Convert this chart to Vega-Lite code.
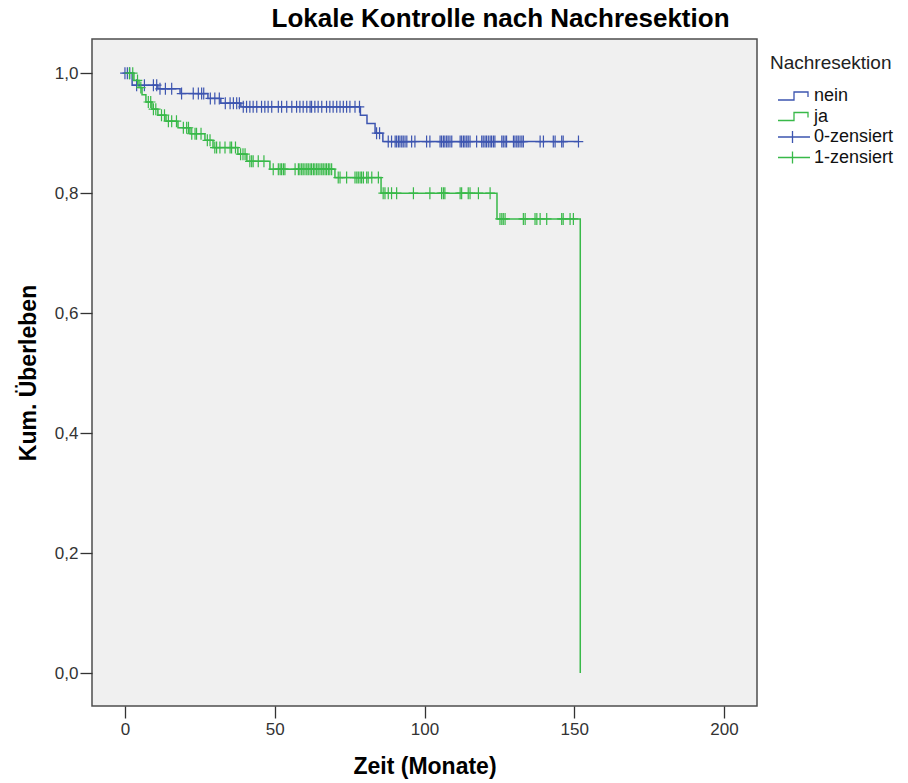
{
  "$schema": "https://vega.github.io/schema/vega-lite/v6.json",
  "width": 665,
  "height": 667,
  "autosize": {"type": "none"},
  "padding": {"left": 92, "top": 39, "right": 151, "bottom": 77},
  "background": "white",
  "title": {"text": "Lokale Kontrolle nach Nachresektion", "fontSize": 26, "fontWeight": "bold", "font": "Liberation Sans", "color": "#000", "anchor": "middle", "dx": 76, "offset": -14, "baseline": "alphabetic"},
  "config": {
    "view": {"fill": "#f0f0f0", "stroke": "#4d4d4d", "strokeWidth": 1.5},
    "font": "Liberation Sans",
    "axis": {"grid": false, "domain": false, "tickColor": "#333", "tickWidth": 1.3, "tickSize": 12, "labelFontSize": 17, "labelColor": "#333", "titleFontSize": 23, "titleFontWeight": "bold", "titleColor": "#000", "labelFont": "Liberation Sans", "titleFont": "Liberation Sans"},
    "legend": {"orient": "none", "legendX": 678, "legendY": 15, "titleFontSize": 19, "titleFontWeight": "normal", "titleColor": "#222", "titleFont": "Liberation Sans", "labelFont": "Liberation Sans", "labelFontSize": 18, "labelColor": "#111", "symbolSize": 400, "symbolOffset": 13, "labelOffset": 9, "rowPadding": 0.5, "titlePadding": 12}
  },
  "datasets": {
    "steps": [
      {"g": "nein", "t": 0, "s": 1.0}, {"g": "nein", "t": 2.4, "s": 0.98}, {"g": "nein", "t": 11, "s": 0.974}, {"g": "nein", "t": 18.4, "s": 0.966}, {"g": "nein", "t": 27.7, "s": 0.958}, {"g": "nein", "t": 32, "s": 0.95}, {"g": "nein", "t": 38.7, "s": 0.944}, {"g": "nein", "t": 78.6, "s": 0.93}, {"g": "nein", "t": 80.8, "s": 0.916}, {"g": "nein", "t": 83.5, "s": 0.9}, {"g": "nein", "t": 86.1, "s": 0.886}, {"g": "nein", "t": 151.4, "s": 0.886},
      {"g": "ja", "t": 0, "s": 1.0}, {"g": "ja", "t": 3, "s": 0.988}, {"g": "ja", "t": 4.7, "s": 0.976}, {"g": "ja", "t": 5.7, "s": 0.964}, {"g": "ja", "t": 7, "s": 0.952}, {"g": "ja", "t": 9, "s": 0.94}, {"g": "ja", "t": 11, "s": 0.93}, {"g": "ja", "t": 13.7, "s": 0.92}, {"g": "ja", "t": 17.7, "s": 0.909}, {"g": "ja", "t": 21.7, "s": 0.899}, {"g": "ja", "t": 26.7, "s": 0.888}, {"g": "ja", "t": 29.4, "s": 0.876}, {"g": "ja", "t": 37.7, "s": 0.865}, {"g": "ja", "t": 40.7, "s": 0.853}, {"g": "ja", "t": 48.4, "s": 0.84}, {"g": "ja", "t": 70.1, "s": 0.826}, {"g": "ja", "t": 85.5, "s": 0.8}, {"g": "ja", "t": 124.2, "s": 0.757}, {"g": "ja", "t": 151.9, "s": 0.757}, {"g": "ja", "t": 152, "s": 0.0}
    ],
    "cens": [
      {"g": "0-zensiert", "t": 0, "s": 1.0}, {"g": "0-zensiert", "t": 0.8, "s": 1.0}, {"g": "0-zensiert", "t": 1.6, "s": 1.0},
      {"g": "0-zensiert", "t": 3.9, "s": 0.98}, {"g": "0-zensiert", "t": 6.5, "s": 0.98}, {"g": "0-zensiert", "t": 9.5, "s": 0.98}, {"g": "0-zensiert", "t": 10.6, "s": 0.98},
      {"g": "0-zensiert", "t": 11.7, "s": 0.974}, {"g": "0-zensiert", "t": 13.5, "s": 0.974}, {"g": "0-zensiert", "t": 15.6, "s": 0.974},
      {"g": "0-zensiert", "t": 18.9, "s": 0.966}, {"g": "0-zensiert", "t": 22.8, "s": 0.966}, {"g": "0-zensiert", "t": 24.5, "s": 0.966}, {"g": "0-zensiert", "t": 25.6, "s": 0.966}, {"g": "0-zensiert", "t": 26.3, "s": 0.966},
      {"g": "0-zensiert", "t": 28.5, "s": 0.958}, {"g": "0-zensiert", "t": 30, "s": 0.958}, {"g": "0-zensiert", "t": 31.5, "s": 0.958},
      {"g": "0-zensiert", "t": 33.5, "s": 0.95}, {"g": "0-zensiert", "t": 35.1, "s": 0.95}, {"g": "0-zensiert", "t": 36.2, "s": 0.95}, {"g": "0-zensiert", "t": 37.3, "s": 0.95}, {"g": "0-zensiert", "t": 38.2, "s": 0.95},
      {"g": "0-zensiert", "t": 39.5, "s": 0.944}, {"g": "0-zensiert", "t": 40.6, "s": 0.944}, {"g": "0-zensiert", "t": 41.7, "s": 0.944}, {"g": "0-zensiert", "t": 42.8, "s": 0.944}, {"g": "0-zensiert", "t": 44, "s": 0.944}, {"g": "0-zensiert", "t": 45.6, "s": 0.944}, {"g": "0-zensiert", "t": 46.7, "s": 0.944}, {"g": "0-zensiert", "t": 47.8, "s": 0.944}, {"g": "0-zensiert", "t": 49, "s": 0.944}, {"g": "0-zensiert", "t": 51.2, "s": 0.944}, {"g": "0-zensiert", "t": 52.3, "s": 0.944}, {"g": "0-zensiert", "t": 54, "s": 0.944}, {"g": "0-zensiert", "t": 55.7, "s": 0.944}, {"g": "0-zensiert", "t": 57.3, "s": 0.944}, {"g": "0-zensiert", "t": 58.4, "s": 0.944}, {"g": "0-zensiert", "t": 59.5, "s": 0.944}, {"g": "0-zensiert", "t": 60.7, "s": 0.944}, {"g": "0-zensiert", "t": 61.8, "s": 0.944}, {"g": "0-zensiert", "t": 62.3, "s": 0.944}, {"g": "0-zensiert", "t": 63.4, "s": 0.944}, {"g": "0-zensiert", "t": 64.5, "s": 0.944}, {"g": "0-zensiert", "t": 65.7, "s": 0.944}, {"g": "0-zensiert", "t": 67.3, "s": 0.944}, {"g": "0-zensiert", "t": 68.4, "s": 0.944}, {"g": "0-zensiert", "t": 69.5, "s": 0.944}, {"g": "0-zensiert", "t": 70.7, "s": 0.944}, {"g": "0-zensiert", "t": 71.8, "s": 0.944}, {"g": "0-zensiert", "t": 72.9, "s": 0.944}, {"g": "0-zensiert", "t": 74, "s": 0.944}, {"g": "0-zensiert", "t": 75.1, "s": 0.944}, {"g": "0-zensiert", "t": 76.8, "s": 0.944}, {"g": "0-zensiert", "t": 78.3, "s": 0.944},
      {"g": "0-zensiert", "t": 84, "s": 0.9}, {"g": "0-zensiert", "t": 85, "s": 0.9},
      {"g": "0-zensiert", "t": 87.9, "s": 0.886}, {"g": "0-zensiert", "t": 89, "s": 0.886}, {"g": "0-zensiert", "t": 90.2, "s": 0.886}, {"g": "0-zensiert", "t": 90.7, "s": 0.886}, {"g": "0-zensiert", "t": 91.3, "s": 0.886}, {"g": "0-zensiert", "t": 91.8, "s": 0.886}, {"g": "0-zensiert", "t": 92.4, "s": 0.886}, {"g": "0-zensiert", "t": 92.9, "s": 0.886}, {"g": "0-zensiert", "t": 93.5, "s": 0.886}, {"g": "0-zensiert", "t": 94.1, "s": 0.886}, {"g": "0-zensiert", "t": 95.7, "s": 0.886}, {"g": "0-zensiert", "t": 96.8, "s": 0.886}, {"g": "0-zensiert", "t": 100.7, "s": 0.886}, {"g": "0-zensiert", "t": 101.8, "s": 0.886}, {"g": "0-zensiert", "t": 105.2, "s": 0.886}, {"g": "0-zensiert", "t": 105.7, "s": 0.886}, {"g": "0-zensiert", "t": 106.3, "s": 0.886}, {"g": "0-zensiert", "t": 106.8, "s": 0.886}, {"g": "0-zensiert", "t": 107.4, "s": 0.886}, {"g": "0-zensiert", "t": 107.9, "s": 0.886}, {"g": "0-zensiert", "t": 108.5, "s": 0.886}, {"g": "0-zensiert", "t": 109.1, "s": 0.886}, {"g": "0-zensiert", "t": 111.9, "s": 0.886}, {"g": "0-zensiert", "t": 112.4, "s": 0.886}, {"g": "0-zensiert", "t": 113, "s": 0.886}, {"g": "0-zensiert", "t": 113.5, "s": 0.886}, {"g": "0-zensiert", "t": 114.1, "s": 0.886}, {"g": "0-zensiert", "t": 114.6, "s": 0.886}, {"g": "0-zensiert", "t": 115.2, "s": 0.886}, {"g": "0-zensiert", "t": 117.4, "s": 0.886}, {"g": "0-zensiert", "t": 119.1, "s": 0.886}, {"g": "0-zensiert", "t": 119.6, "s": 0.886}, {"g": "0-zensiert", "t": 120.2, "s": 0.886}, {"g": "0-zensiert", "t": 120.7, "s": 0.886}, {"g": "0-zensiert", "t": 121.3, "s": 0.886}, {"g": "0-zensiert", "t": 121.9, "s": 0.886}, {"g": "0-zensiert", "t": 122.4, "s": 0.886}, {"g": "0-zensiert", "t": 123, "s": 0.886}, {"g": "0-zensiert", "t": 123.5, "s": 0.886}, {"g": "0-zensiert", "t": 125.8, "s": 0.886}, {"g": "0-zensiert", "t": 126.3, "s": 0.886}, {"g": "0-zensiert", "t": 126.9, "s": 0.886}, {"g": "0-zensiert", "t": 127.4, "s": 0.886}, {"g": "0-zensiert", "t": 129.7, "s": 0.886}, {"g": "0-zensiert", "t": 130.2, "s": 0.886}, {"g": "0-zensiert", "t": 130.8, "s": 0.886}, {"g": "0-zensiert", "t": 131.3, "s": 0.886}, {"g": "0-zensiert", "t": 131.9, "s": 0.886}, {"g": "0-zensiert", "t": 132.5, "s": 0.886}, {"g": "0-zensiert", "t": 133, "s": 0.886}, {"g": "0-zensiert", "t": 138.6, "s": 0.886}, {"g": "0-zensiert", "t": 139.7, "s": 0.886}, {"g": "0-zensiert", "t": 143, "s": 0.886}, {"g": "0-zensiert", "t": 143.6, "s": 0.886}, {"g": "0-zensiert", "t": 145.8, "s": 0.886}, {"g": "0-zensiert", "t": 146.3, "s": 0.886}, {"g": "0-zensiert", "t": 151.4, "s": 0.886},
      {"g": "1-zensiert", "t": 1.5, "s": 1.0}, {"g": "1-zensiert", "t": 2.6, "s": 1.0},
      {"g": "1-zensiert", "t": 4.2, "s": 0.988}, {"g": "1-zensiert", "t": 5.3, "s": 0.976},
      {"g": "1-zensiert", "t": 7.8, "s": 0.952}, {"g": "1-zensiert", "t": 8.6, "s": 0.952},
      {"g": "1-zensiert", "t": 9.5, "s": 0.94}, {"g": "1-zensiert", "t": 10.3, "s": 0.94},
      {"g": "1-zensiert", "t": 12.2, "s": 0.93}, {"g": "1-zensiert", "t": 13.2, "s": 0.93},
      {"g": "1-zensiert", "t": 14.5, "s": 0.92}, {"g": "1-zensiert", "t": 15.6, "s": 0.92}, {"g": "1-zensiert", "t": 17.2, "s": 0.92},
      {"g": "1-zensiert", "t": 19.5, "s": 0.909}, {"g": "1-zensiert", "t": 20.6, "s": 0.909}, {"g": "1-zensiert", "t": 21.2, "s": 0.909},
      {"g": "1-zensiert", "t": 22.3, "s": 0.899}, {"g": "1-zensiert", "t": 23.4, "s": 0.899}, {"g": "1-zensiert", "t": 23.9, "s": 0.899}, {"g": "1-zensiert", "t": 25.4, "s": 0.899},
      {"g": "1-zensiert", "t": 27.5, "s": 0.888}, {"g": "1-zensiert", "t": 28.4, "s": 0.888},
      {"g": "1-zensiert", "t": 30, "s": 0.876}, {"g": "1-zensiert", "t": 30.6, "s": 0.876}, {"g": "1-zensiert", "t": 31.7, "s": 0.876}, {"g": "1-zensiert", "t": 33.4, "s": 0.876}, {"g": "1-zensiert", "t": 35.1, "s": 0.876}, {"g": "1-zensiert", "t": 35.6, "s": 0.876}, {"g": "1-zensiert", "t": 36.9, "s": 0.876},
      {"g": "1-zensiert", "t": 38.6, "s": 0.865}, {"g": "1-zensiert", "t": 39.4, "s": 0.865}, {"g": "1-zensiert", "t": 40.1, "s": 0.865},
      {"g": "1-zensiert", "t": 41.7, "s": 0.853}, {"g": "1-zensiert", "t": 42.3, "s": 0.853}, {"g": "1-zensiert", "t": 42.8, "s": 0.853}, {"g": "1-zensiert", "t": 44.5, "s": 0.853}, {"g": "1-zensiert", "t": 46.4, "s": 0.853},
      {"g": "1-zensiert", "t": 49.5, "s": 0.84}, {"g": "1-zensiert", "t": 51.2, "s": 0.84}, {"g": "1-zensiert", "t": 51.8, "s": 0.84}, {"g": "1-zensiert", "t": 52.3, "s": 0.84}, {"g": "1-zensiert", "t": 52.9, "s": 0.84}, {"g": "1-zensiert", "t": 53.4, "s": 0.84}, {"g": "1-zensiert", "t": 56.8, "s": 0.84}, {"g": "1-zensiert", "t": 57.9, "s": 0.84}, {"g": "1-zensiert", "t": 58.4, "s": 0.84}, {"g": "1-zensiert", "t": 59, "s": 0.84}, {"g": "1-zensiert", "t": 59.5, "s": 0.84}, {"g": "1-zensiert", "t": 60.1, "s": 0.84}, {"g": "1-zensiert", "t": 60.7, "s": 0.84}, {"g": "1-zensiert", "t": 61.2, "s": 0.84}, {"g": "1-zensiert", "t": 61.8, "s": 0.84}, {"g": "1-zensiert", "t": 62.3, "s": 0.84}, {"g": "1-zensiert", "t": 62.9, "s": 0.84}, {"g": "1-zensiert", "t": 63.4, "s": 0.84}, {"g": "1-zensiert", "t": 64, "s": 0.84}, {"g": "1-zensiert", "t": 64.5, "s": 0.84}, {"g": "1-zensiert", "t": 65.1, "s": 0.84}, {"g": "1-zensiert", "t": 65.7, "s": 0.84}, {"g": "1-zensiert", "t": 66.2, "s": 0.84}, {"g": "1-zensiert", "t": 66.8, "s": 0.84}, {"g": "1-zensiert", "t": 67.3, "s": 0.84}, {"g": "1-zensiert", "t": 67.9, "s": 0.84}, {"g": "1-zensiert", "t": 68.4, "s": 0.84}, {"g": "1-zensiert", "t": 69, "s": 0.84},
      {"g": "1-zensiert", "t": 71.2, "s": 0.826}, {"g": "1-zensiert", "t": 71.8, "s": 0.826}, {"g": "1-zensiert", "t": 74, "s": 0.826}, {"g": "1-zensiert", "t": 76.8, "s": 0.826}, {"g": "1-zensiert", "t": 77.4, "s": 0.826}, {"g": "1-zensiert", "t": 77.9, "s": 0.826}, {"g": "1-zensiert", "t": 78.5, "s": 0.826}, {"g": "1-zensiert", "t": 79, "s": 0.826}, {"g": "1-zensiert", "t": 79.6, "s": 0.826}, {"g": "1-zensiert", "t": 80.7, "s": 0.826}, {"g": "1-zensiert", "t": 81.2, "s": 0.826}, {"g": "1-zensiert", "t": 82.4, "s": 0.826}, {"g": "1-zensiert", "t": 84.6, "s": 0.826},
      {"g": "1-zensiert", "t": 86.2, "s": 0.8}, {"g": "1-zensiert", "t": 86.8, "s": 0.8}, {"g": "1-zensiert", "t": 87.9, "s": 0.8}, {"g": "1-zensiert", "t": 89, "s": 0.8}, {"g": "1-zensiert", "t": 90.7, "s": 0.8}, {"g": "1-zensiert", "t": 96.3, "s": 0.8}, {"g": "1-zensiert", "t": 101.8, "s": 0.8}, {"g": "1-zensiert", "t": 105.7, "s": 0.8}, {"g": "1-zensiert", "t": 106.3, "s": 0.8}, {"g": "1-zensiert", "t": 106.8, "s": 0.8}, {"g": "1-zensiert", "t": 111.9, "s": 0.8}, {"g": "1-zensiert", "t": 112.4, "s": 0.8}, {"g": "1-zensiert", "t": 114.6, "s": 0.8}, {"g": "1-zensiert", "t": 115.2, "s": 0.8}, {"g": "1-zensiert", "t": 118, "s": 0.8}, {"g": "1-zensiert", "t": 121.9, "s": 0.8},
      {"g": "1-zensiert", "t": 125.2, "s": 0.757}, {"g": "1-zensiert", "t": 125.8, "s": 0.757}, {"g": "1-zensiert", "t": 126.3, "s": 0.757}, {"g": "1-zensiert", "t": 126.9, "s": 0.757}, {"g": "1-zensiert", "t": 133, "s": 0.757}, {"g": "1-zensiert", "t": 133.6, "s": 0.757}, {"g": "1-zensiert", "t": 136.9, "s": 0.757}, {"g": "1-zensiert", "t": 137.5, "s": 0.757}, {"g": "1-zensiert", "t": 138.6, "s": 0.757}, {"g": "1-zensiert", "t": 140.8, "s": 0.757}, {"g": "1-zensiert", "t": 145.8, "s": 0.757}, {"g": "1-zensiert", "t": 146.3, "s": 0.757}, {"g": "1-zensiert", "t": 148.6, "s": 0.757}, {"g": "1-zensiert", "t": 149.7, "s": 0.757}
    ]
  },
  "encoding": {
    "x": {"field": "t", "type": "quantitative", "scale": {"domain": [-11, 211], "nice": false, "zero": false},
      "axis": {"values": [0, 50, 100, 150, 200], "title": "Zeit (Monate)", "labelPadding": 3, "titlePadding": 18}},
    "y": {"field": "s", "type": "quantitative", "scale": {"domain": [-0.055, 1.057], "nice": false, "zero": false},
      "axis": {"values": [0, 0.2, 0.4, 0.6, 0.8, 1.0], "title": "Kum. Überleben", "labelExpr": "replace(format(datum.value, '.1f'), '.', ',')", "labelPadding": 2, "titlePadding": 14}}
  },
  "layer": [
    {
      "data": {"name": "steps"},
      "mark": {"type": "line", "interpolate": "step-after", "strokeWidth": 1.5},
      "encoding": {
        "color": {"field": "g", "type": "nominal",
          "scale": {"domain": ["nein", "ja", "0-zensiert", "1-zensiert"], "range": ["#3d55b0", "#38b949", "#3d55b0", "#38b949"]},
          "legend": {"title": "Nachresektion",
            "encode": {"symbols": {"update": {
              "shape": {"signal": "datum.value === 'nein' || datum.value === 'ja' ? 'M-1.6,0.4L0,0.4L0,-0.4L1.4,-0.4L1.4,0.1' : 'M-1.6,0L1.6,0M-0.15,-0.6L-0.15,0.6'"},
              "size": {"value": 400}, "fill": {"value": "transparent"}, "stroke": {"scale": "color", "field": "value"}, "strokeWidth": {"value": 1.3}, "opacity": {"value": 1}}}}}}
      }
    },
    {
      "data": {"name": "cens"},
      "mark": {"type": "point", "shape": "M0,-1L0,1M-0.8,0L0.8,0", "size": 144, "filled": false, "strokeWidth": 1.2, "opacity": 1},
      "encoding": {
        "color": {"field": "g", "type": "nominal"}
      }
    }
  ]
}
